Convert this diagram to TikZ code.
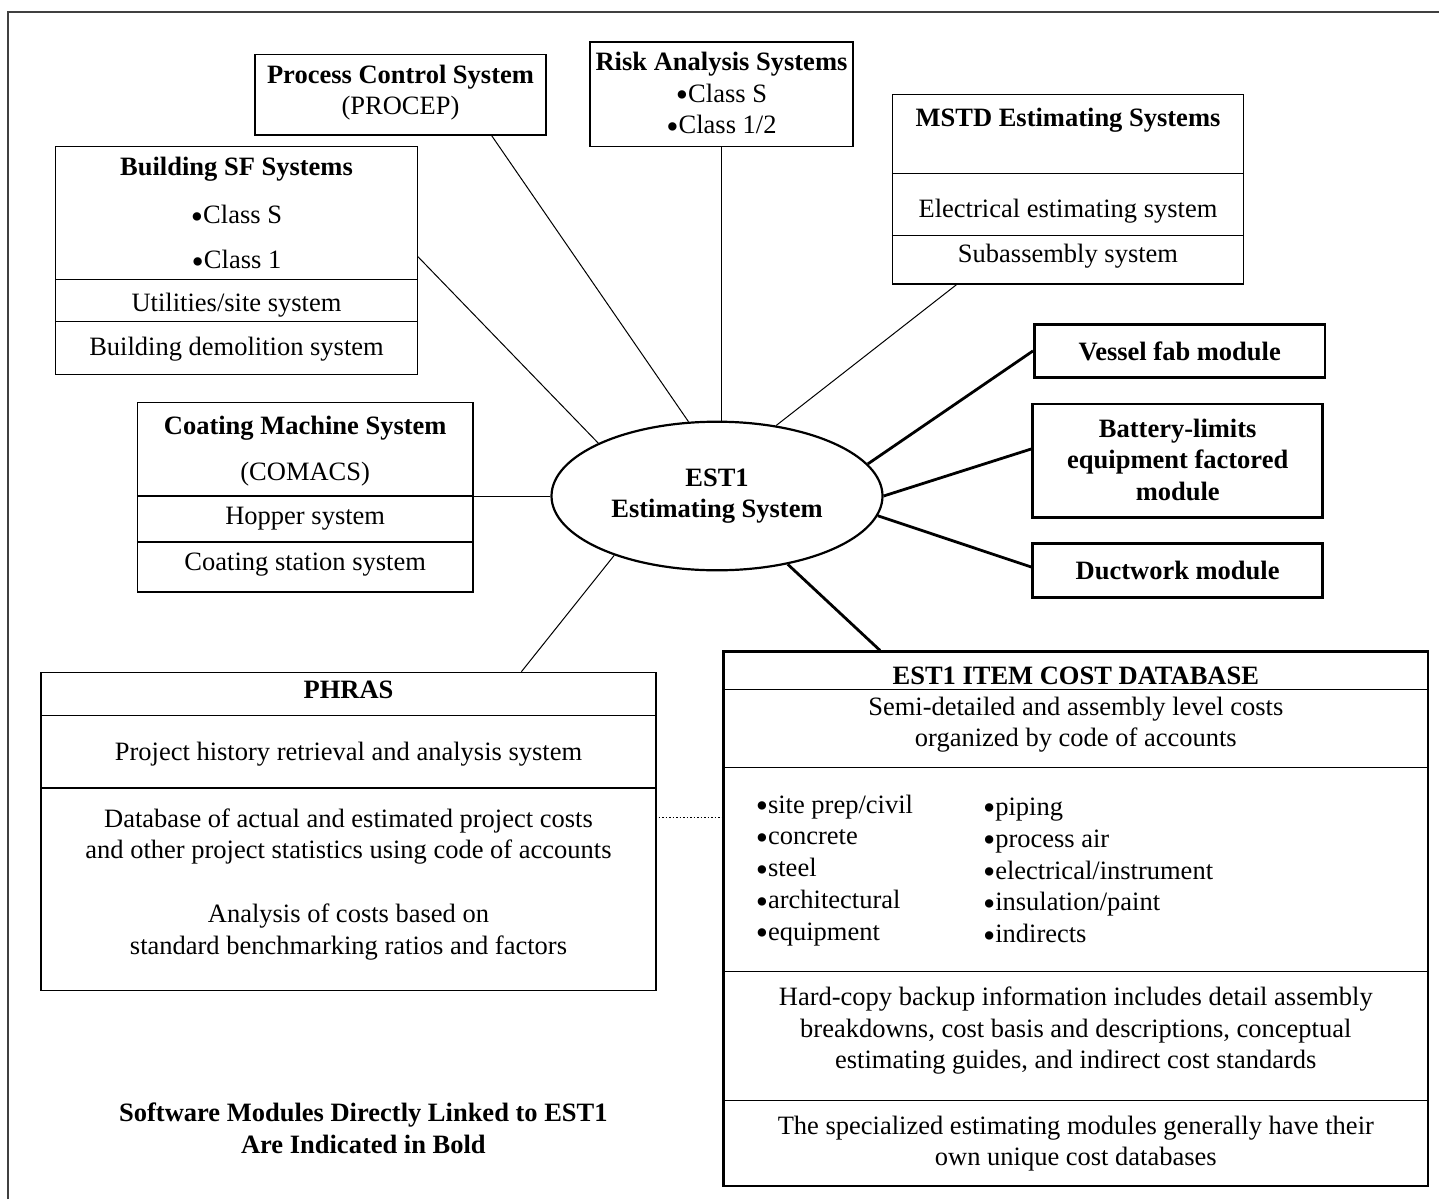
\documentclass[tikz,border=0pt]{standalone}
\usepackage{fontspec}
\setmainfont{Liberation Serif}
\usetikzlibrary{shapes.geometric}
\newcommand\mybul{\raisebox{-4.5pt}[0pt][0pt]{\fontsize{35}{35}\selectfont•}}
\begin{document}
\begin{tikzpicture}[x=1pt,y=-1pt,
  box/.style={draw, line width=1.3pt, inner sep=0pt, rectangle},
  boldbox/.style={draw, line width=2.8pt, inner sep=0pt, rectangle},
  txt/.style={inner sep=0pt, align=center, font=\fontsize{26.5}{31.5}\selectfont},
  btxt/.style={inner sep=0pt, align=center, font=\fontsize{26.5}{31.5}\selectfont\bfseries},
  ltxt/.style={inner sep=0pt, align=left, anchor=west, font=\fontsize{26.5}{31.8}\selectfont},
  thinlink/.style={line width=1pt},
  thicklink/.style={line width=2.8pt},
  divider/.style={line width=1.3pt}]
\useasboundingbox (0,0) rectangle (1439,1199);
\draw[line width=1.4pt, black!75] (8,1199) -- (8,12) -- (1439,12);

% boxes
\node[box, minimum width=291pt, minimum height=80.7pt] (pcs) at (400.5,94.7) {};
\node[box, minimum width=263pt, minimum height=104.7pt] (risk) at (721.5,94.3) {};
\node[box, minimum width=361.6pt, minimum height=227.6pt] (bsf) at (236.5,260.5) {};
\node[box, minimum width=351pt, minimum height=189.4pt] (mstd) at (1068,189.3) {};
\node[boldbox, minimum width=290.6pt, minimum height=52.8pt] (vessel) at (1179.7,350.9) {};
\node[boldbox, minimum width=290.2pt, minimum height=113.4pt] (bat) at (1177.7,460.7) {};
\node[boldbox, minimum width=290pt, minimum height=53.5pt] (duct) at (1177.6,570.5) {};
\node[box, minimum width=335.4pt, minimum height=189.7pt] (coat) at (305.2,497.2) {};
\node[box, minimum width=615pt, minimum height=318.3pt] (phras) at (348.5,831.5) {};
\node[boldbox, minimum width=704.4pt, minimum height=534.2pt] (db) at (1075.8,918.9) {};
\node[ellipse, draw, line width=2.2pt, minimum width=331pt, minimum height=148.6pt,
      inner sep=0pt, align=center, font=\fontsize{26.5}{31.7}\selectfont\bfseries] (ell) at (717,496) {EST1\\Estimating System};

% dividers
\draw[divider] (bsf.west |- 0,279.3) -- (bsf.east |- 0,279.3);
\draw[divider] (bsf.west |- 0,321.7) -- (bsf.east |- 0,321.7);
\draw[divider] (mstd.west |- 0,173.4) -- (mstd.east |- 0,173.4);
\draw[divider] (mstd.west |- 0,235.4) -- (mstd.east |- 0,235.4);
\draw[divider] (coat.west |- 0,496) -- (coat.east |- 0,496);
\draw[divider] (coat.west |- 0,542) -- (coat.east |- 0,542);
\draw[divider] (phras.west |- 0,715.7) -- (phras.east |- 0,715.7);
\draw[divider] (phras.west |- 0,787.9) -- (phras.east |- 0,787.9);
\draw[divider] (db.west |- 0,689.2) -- (db.east |- 0,689.2);
\draw[divider] (db.west |- 0,767.6) -- (db.east |- 0,767.6);
\draw[divider] (db.west |- 0,971.5) -- (db.east |- 0,971.5);
\draw[divider] (db.west |- 0,1100.6) -- (db.east |- 0,1100.6);

% connectors
\draw[thinlink] ([yshift=3.8pt]bsf.east) -- (ell.156);
\draw[thinlink] ([xshift=91.2pt]pcs.south) -- (ell.111);
\draw[thinlink] (risk.south) -- (risk.south |- ell.north);
\draw[thinlink] ([xshift=-111.5pt]mstd.south) -- (ell.50);
\draw[thicklink] (vessel.west) -- (ell.12);
\draw[thicklink] ([yshift=11.7pt]bat.west) -- (ell.0);
\draw[thicklink] ([yshift=3.5pt]duct.west) -- (ell.353);
\draw[thicklink] ([xshift=-195.8pt]db.north) -- (ell.316);
\draw[thinlink] ([xshift=172.9pt]phras.north) -- (ell.210);
\draw[thinlink] ([yshift=1.2pt]coat.east) -- (ell.180);
\draw[line width=1.8pt, dash pattern=on 1.6pt off 1.9pt, shorten <=2pt] (phras.east |- 0,817.4) -- (db.west |- 0,817.4);

% texts
\node[btxt] (pcsT) at (400.5,92.5) {Process Control System\\\mdseries (PROCEP)};
\node[txt] (riskT) at (721.5,93) {\textbf{Risk Analysis Systems}\\\mybul Class S\\\mybul Class 1/2};

\node[btxt] (bsfT1) at (236.5,169.5) {Building SF Systems};
\node[txt] (bsfT2) at (236.5,214.5) {\mybul Class S};
\node[txt] (bsfT3) at (236.5,259.5) {\mybul Class 1};
\node[txt] (bsfT4) at (236.5,305.5) {Utilities/site system};
\node[txt] (bsfT5) at (236.5,349.5) {Building demolition system};

\node[btxt] (mstdT1) at (1068,120) {MSTD Estimating Systems};
\node[txt] (mstdT2) at (1068,211) {Electrical estimating system};
\node[txt] (mstdT3) at (1068,256.5) {Subassembly system};

\node[btxt] (vesselT) at (1179.7,351.5) {Vessel fab module};
\node[btxt] (batT) at (1177.7,459.7) {Battery-limits\\equipment factored\\module};
\node[btxt] (ductT) at (1177.6,570) {Ductwork module};

\node[btxt] (coatT1) at (305.2,428.5) {Coating Machine System};
\node[txt] (coatT2) at (305.2,474) {(COMACS)};
\node[txt] (coatT3) at (305.2,519) {Hopper system};
\node[txt] (coatT4) at (305.2,565) {Coating station system};

\node[btxt] (phrasT1) at (348.5,690.2) {PHRAS};
\node[txt] (phrasT2) at (348.5,754.5) {Project history retrieval and analysis system};
\node[txt] (phrasT3) at (348.5,836.3) {Database of actual and estimated project costs\\and other project statistics using code of accounts};
\node[txt] (phrasT4) at (348.5,932) {Analysis of costs based on\\standard benchmarking ratios and factors};

\node[btxt] (dbT1) at (1075.8,675.6) {EST1 ITEM COST DATABASE};
\node[txt] (dbT2) at (1075.8,724.7) {Semi-detailed and assembly level costs\\organized by code of accounts};
\node[ltxt] (dbL) at (755.6,870.4) {\mybul site prep/civil\\\mybul concrete\\\mybul steel\\\mybul architectural\\\mybul equipment};
\node[ltxt] (dbR) at (982.8,870.4) {\mybul piping\\\mybul process air\\\mybul electrical/instrument\\\mybul insulation/paint\\\mybul indirects};
\node[txt] (dbT3) at (1075.8,1030.8) {Hard-copy backup information includes detail assembly\\breakdowns, cost basis and descriptions, conceptual\\estimating guides, and indirect cost standards};
\node[txt] (dbT4) at (1075.8,1143.7) {The specialized estimating modules generally have their\\own unique cost databases};

\node[btxt] (foot) at (363.4,1128.5) {Software Modules Directly Linked to EST1\\Are Indicated in Bold};
\end{tikzpicture}
\end{document}
